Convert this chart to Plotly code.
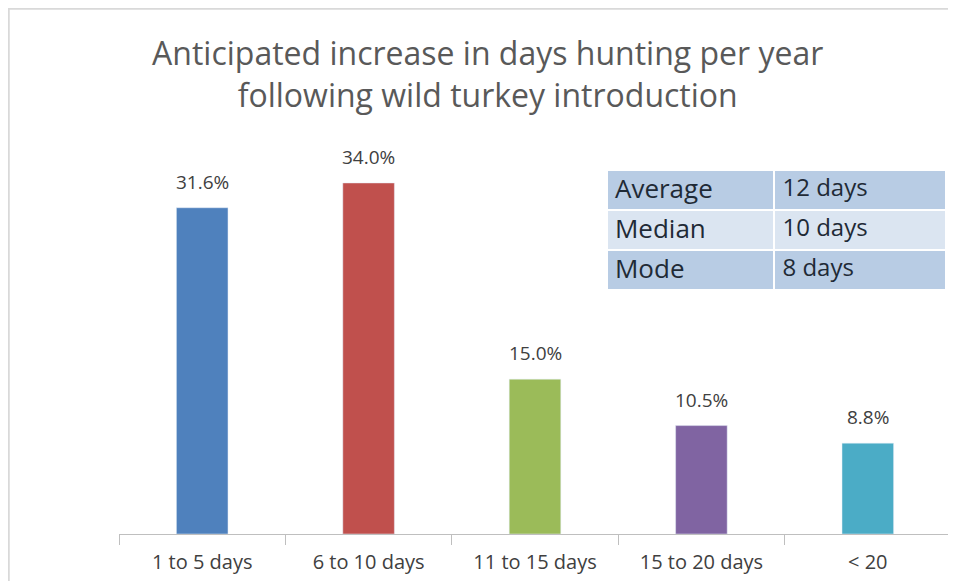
import plotly.graph_objects as go

categories = ["1 to 5 days", "6 to 10 days", "11 to 15 days", "15 to 20 days", "< 20"]
percentages = [31.6, 34.0, 15.0, 10.5, 8.8]
bar_colors = ["#4f81bd", "#c0504d", "#9bbb59", "#8064a2", "#4bacc6"]

stat_names = ["Average", "Median", "Mode"]
stat_values = ["12 days", "10 days", "8 days"]

title_text = "Anticipated increase in days hunting per year<br>following wild turkey introduction"

fig = go.Figure()

fig.add_trace(
    go.Bar(
        x=categories,
        y=percentages,
        marker_color=bar_colors,
        width=0.31,
        showlegend=False,
        hoverinfo="skip"
    )
)

# data labels sit a bit higher than plotly's outside text, so use annotations
for cat, val in zip(categories, percentages):
    fig.add_annotation(
        x=cat,
        y=val,
        text=f"{val:.1f}%",
        showarrow=False,
        yshift=26,
        font=dict(family="Open Sans", size=19, color="#404040")
    )

row_fill = ["#b8cce4", "#dbe5f1", "#b8cce4"]

fig.add_trace(
    go.Table(
        domain=dict(x=[0.5865, 0.995], y=[0.55, 0.92]),
        columnwidth=[168, 172],
        header=dict(values=[], height=0, line_width=0, fill_color="rgba(0,0,0,0)"),
        cells=dict(
            values=[stat_names, stat_values],
            height=40,
            align="left",
            fill_color=[row_fill, row_fill],
            line=dict(color="white", width=2),
            font=dict(family="Open Sans", size=[26, 24], color="#1f2a36")
        )
    )
)

fig.update_layout(
    width=948,
    height=573,
    paper_bgcolor="white",
    plot_bgcolor="white",
    margin=dict(l=111, r=5, t=113, b=47),
    title=dict(
        text=title_text,
        x=0.506,
        xanchor="center",
        y=0.90,
        yanchor="bottom",
        font=dict(family="Open Sans", size=32, color="#595959")
    ),
    xaxis=dict(
        showgrid=False,
        showline=True,
        linecolor="#bfbfbf",
        ticks="outside",
        tickson="boundaries",
        ticklen=10,
        tickcolor="#bfbfbf",
        ticklabelstandoff=10,
        tickfont=dict(family="Open Sans", size=20, color="#404040")
    ),
    yaxis=dict(range=[0, 40], visible=False),
    shapes=[
        dict(type="line", xref="paper", yref="paper", x0=-0.14, x1=1.01,
             y0=1.272, y1=1.272, line=dict(color="#d9d9d9", width=2)),
        dict(type="line", xref="paper", yref="paper", x0=-0.1325, x1=-0.1325,
             y0=-0.2, y1=1.28, line=dict(color="#d9d9d9", width=2)),
    ]
)

fig.write_html("out.html")
